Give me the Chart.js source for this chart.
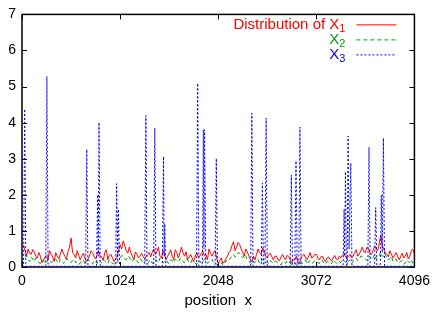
<!DOCTYPE html>
<html>
<head>
<meta charset="utf-8">
<script src="https://cdn.jsdelivr.net/npm/chart.js@4"></script>
<style>
  html, body { margin: 0; padding: 0; background: #fff; }
  #wrap { width: 436px; height: 312px; }
</style>
</head>
<body>
<div id="wrap"><canvas id="grafico" width="436" height="312"></canvas></div>
<script>
// sample grid for X1 / X2: main samples every 32, in-between samples at +16
const posicoes = Array.from({ length: 129 }, (_, i) => i * 32);
const posicoesMeio = Array.from({ length: 128 }, (_, i) => i * 32 + 16);

const valoresX1 = [
  0.55, 0.45, 0.5, 0.35, 0.42, 0.25, 0.3, 0.18, 0.32, 0.45, 0.28, 0.4, 0.22, 0.5, 0.3, 0.42,
  0.8, 0.35, 0.45, 0.2, 0.38, 0.15, 0.3, 0.4, 0.22, 0.45, 0.28, 0.4, 0.2, 0.35, 0.15, 0.3,
  0.62, 0.72, 0.45, 0.55, 0.3, 0.42, 0.25, 0.38, 0.22, 0.35, 0.28, 0.5, 0.42, 0.3, 0.45, 0.2,
  0.38, 0.3, 0.48, 0.25, 0.55, 0.3, 0.2, 0.35, 0.15, 0.4, 0.3, 0.45, 0.35, 0.5, 0.3, 0.45,
  0.1, 0.25, 0.15, 0.3, 0.45, 0.7, 0.55, 0.62, 0.4, 0.5, 0.3, 0.15, 0.2, 0.5, 0.35, 0.45,
  0.25, 0.38, 0.2, 0.3, 0.18, 0.35, 0.2, 0.3, 0.12, 0.22, 0.15, 0.25, 0.35, 0.2, 0.4, 0.28,
  0.35, 0.2, 0.3, 0.15, 0.28, 0.18, 0.32, 0.2, 0.25, 0.38, 0.22, 0.35, 0.3, 0.48, 0.35, 0.55,
  0.4, 0.5, 0.35, 0.58, 0.45, 0.88, 0.5, 0.35, 0.45, 0.25, 0.4, 0.2, 0.38, 0.3, 0.22, 0.45,
  0.35
];
const valoresX1Meio = [
  0.6, 0.3, 0.38, 0.48, 0.3, 0.4, 0.12, 0.28, 0.2, 0.35, 0.15, 0.3, 0.35, 0.38, 0.2, 0.55,
  0.4, 0.25, 0.32, 0.3, 0.25, 0.22, 0.45, 0.3, 0.35, 0.3, 0.18, 0.48, 0.32, 0.25, 0.22, 0.45,
  0.5, 0.6, 0.38, 0.4, 0.2, 0.35, 0.3, 0.3, 0.3, 0.4, 0.42, 0.35, 0.55, 0.25, 0.35, 0.3,
  0.48, 0.2, 0.4, 0.38, 0.4, 0.42, 0.28, 0.25, 0.3, 0.28, 0.38, 0.3, 0.2, 0.38, 0.4, 0.25,
  0.18, 0.1, 0.22, 0.4, 0.6, 0.45, 0.68, 0.5, 0.3, 0.42, 0.2, 0.3, 0.35, 0.4, 0.52, 0.3,
  0.35, 0.28, 0.3, 0.2, 0.28, 0.25, 0.32, 0.2, 0.2, 0.3, 0.1, 0.32, 0.25, 0.3, 0.25, 0.35,
  0.25, 0.28, 0.2, 0.25, 0.2, 0.25, 0.22, 0.3, 0.32, 0.3, 0.3, 0.25, 0.4, 0.3, 0.45, 0.42,
  0.55, 0.4, 0.45, 0.5, 0.65, 0.6, 0.4, 0.28, 0.35, 0.32, 0.3, 0.28, 0.25, 0.4, 0.3, 0.5
];

const valoresX2 = [
  0.3, 0.25, 0.2, 0.28, 0.15, 0.2, 0.1, 0.18, 0.12, 0.2, 0.15, 0.22, 0.1, 0.18, 0.14, 0.2,
  0.12, 0.22, 0.15, 0.1, 0.2, 0.12, 0.18, 0.08, 0.15, 0.2, 0.12, 0.18, 0.1, 0.15, 0.08, 0.12,
  0.25, 0.3, 0.2, 0.28, 0.15, 0.22, 0.12, 0.2, 0.15, 0.1, 0.2, 0.14, 0.18, 0.25, 0.12, 0.2,
  0.1, 0.18, 0.22, 0.15, 0.25, 0.12, 0.2, 0.1, 0.15, 0.08, 0.18, 0.12, 0.2, 0.15, 0.22, 0.12,
  0.05, 0.12, 0.08, 0.15, 0.25, 0.35, 0.3, 0.38, 0.25, 0.3, 0.15, 0.08, 0.12, 0.22, 0.15, 0.2,
  0.12, 0.18, 0.1, 0.15, 0.08, 0.14, 0.1, 0.16, 0.08, 0.12, 0.06, 0.1, 0.15, 0.08, 0.18, 0.12,
  0.15, 0.1, 0.18, 0.08, 0.14, 0.1, 0.15, 0.08, 0.12, 0.18, 0.1, 0.2, 0.15, 0.25, 0.2, 0.3,
  0.22, 0.28, 0.2, 0.35, 0.25, 0.42, 0.3, 0.2, 0.25, 0.15, 0.22, 0.12, 0.18, 0.1, 0.15, 0.2,
  0.12
];
const valoresX2Meio = [
  0.2, 0.32, 0.15, 0.22, 0.25, 0.12, 0.2, 0.1, 0.22, 0.12, 0.2, 0.15, 0.22, 0.1, 0.25, 0.15,
  0.18, 0.12, 0.08, 0.18, 0.1, 0.2, 0.12, 0.18, 0.1, 0.15, 0.22, 0.12, 0.2, 0.1, 0.15, 0.2,
  0.32, 0.22, 0.3, 0.18, 0.25, 0.15, 0.22, 0.1, 0.2, 0.16, 0.1, 0.22, 0.12, 0.2, 0.15, 0.12,
  0.2, 0.12, 0.18, 0.22, 0.15, 0.22, 0.12, 0.2, 0.1, 0.15, 0.1, 0.22, 0.1, 0.18, 0.1, 0.08,
  0.1, 0.05, 0.18, 0.2, 0.3, 0.28, 0.4, 0.3, 0.35, 0.2, 0.12, 0.15, 0.18, 0.1, 0.22, 0.14,
  0.08, 0.14, 0.16, 0.12, 0.06, 0.15, 0.18, 0.1, 0.1, 0.05, 0.12, 0.1, 0.2, 0.15, 0.1, 0.18,
  0.12, 0.2, 0.1, 0.15, 0.08, 0.2, 0.12, 0.15, 0.22, 0.12, 0.15, 0.1, 0.2, 0.18, 0.3, 0.25,
  0.18, 0.3, 0.25, 0.22, 0.32, 0.3, 0.38, 0.2, 0.3, 0.18, 0.12, 0.15, 0.08, 0.2, 0.12, 0.1
];

// X3: near zero with narrow spikes
const posicoesX3 = [
  0, 16, 28, 40, 248, 260, 272, 664, 676, 688, 778, 790, 796, 804, 816,
  978, 988, 998, 1006, 1018, 1281, 1293, 1305, 1374, 1386, 1398,
  1465, 1477, 1484, 1490, 1500, 1822, 1834, 1846, 1883, 1893, 1899, 1906, 1918,
  2016, 2028, 2040, 2387, 2399, 2411, 2498, 2509, 2520, 2536, 2548, 2560,
  2799, 2811, 2823, 2848, 2860, 2872, 2889, 2901, 2913,
  3352, 3362, 3368, 3376, 3386, 3394, 3404, 3414, 3432, 3444,
  3610, 3622, 3634, 3680, 3692, 3704, 3740, 3750, 3760, 3772, 3784, 4096
];
const valoresX3 = [
  0.02, 0.02, 4.38, 0.02, 0.02, 5.28, 0.02, 0.02, 3.26, 0.02, 0.02, 2.0, 0.3, 4.01, 0.02,
  0.02, 2.31, 0.2, 1.6, 0.02, 0.02, 4.2, 0.02, 0.02, 3.85, 0.02,
  0.02, 3.06, 0.3, 1.2, 0.02, 0.02, 5.09, 0.02, 0.02, 3.81, 0.5, 3.8, 0.02,
  0.02, 3.01, 0.02, 0.02, 4.26, 0.02, 0.02, 2.32, 0.02, 0.02, 4.13, 0.02,
  0.02, 2.55, 0.02, 0.02, 2.94, 0.02, 0.02, 3.88, 0.02,
  0.02, 1.6, 0.3, 2.64, 0.02, 0.02, 3.63, 0.5, 2.88, 0.02,
  0.02, 3.32, 0.02, 0.02, 1.65, 0.02, 0.02, 2.0, 0.4, 3.57, 0.02, 0.02
];

const ticksX = [0, 1024, 2048, 3072, 4096];
const ticksY = [0, 1, 2, 3, 4, 5, 6, 7];

const rotulos = ["Distribution of X", "X", "X"];
const indices = ["1", "2", "3"];
const cores = ["#ff0000", "#00a000", "#0000ff"];
const tracos = [[], [4, 3], [2, 2]];

const FONTE = "'Liberation Sans', Arial, sans-serif";
const TICK = 5;

function pares(xs, ys) {
  return xs.map((x, i) => ({ x, y: ys[i] }));
}

// main samples + in-between samples, ordered by position
function juntar(xs, ys, xsMeio, ysMeio) {
  return pares(xs, ys).concat(pares(xsMeio, ysMeio)).sort((a, b) => a.x - b.x);
}

// frame + inward ticks on all four sides
const molduraPlugin = {
  id: "moldura",
  beforeDatasetsDraw(chart) {
    const { ctx, chartArea: a, scales } = chart;
    ctx.save();
    ctx.strokeStyle = "#000";
    ctx.lineWidth = 1;
    ctx.beginPath();
    ticksX.forEach(v => {
      const px = Math.round(scales.x.getPixelForValue(v)) + 0.5;
      ctx.moveTo(px, a.bottom); ctx.lineTo(px, a.bottom - TICK);
      ctx.moveTo(px, a.top); ctx.lineTo(px, a.top + TICK);
    });
    ticksY.forEach(v => {
      const py = Math.round(scales.y.getPixelForValue(v)) + 0.5;
      ctx.moveTo(a.left, py); ctx.lineTo(a.left + TICK, py);
      ctx.moveTo(a.right, py); ctx.lineTo(a.right - TICK, py);
    });
    ctx.stroke();
    ctx.lineWidth = 1.5;
    ctx.strokeRect(a.left, a.top, a.right - a.left, a.bottom - a.top);
    ctx.restore();
  }
};

// gnuplot-style key, top right, with subscripts
const legendaPlugin = {
  id: "legenda",
  afterDatasetsDraw(chart) {
    const { ctx, chartArea: a } = chart;
    ctx.save();
    const fimTexto = a.right - 69;
    chart.data.datasets.forEach((ds, i) => {
      const base = a.top + 14.5 + i * 15;
      ctx.font = "11px " + FONTE;
      const wSub = ctx.measureText(indices[i]).width;
      ctx.fillStyle = cores[i];
      ctx.textBaseline = "alphabetic";
      ctx.textAlign = "left";
      ctx.fillText(indices[i], fimTexto - wSub, base + 3);
      ctx.font = "15px " + FONTE;
      ctx.textAlign = "right";
      ctx.fillText(rotulos[i], fimTexto - wSub, base);
      // line sample
      ctx.strokeStyle = cores[i];
      ctx.lineWidth = 1;
      ctx.setLineDash(tracos[i]);
      ctx.beginPath();
      ctx.moveTo(a.right - 58, base - 4);
      ctx.lineTo(a.right - 18, base - 4);
      ctx.stroke();
    });
    ctx.restore();
  }
};

const datasets = [
  { label: "X1", data: juntar(posicoes, valoresX1, posicoesMeio, valoresX1Meio), order: 2 },
  { label: "X2", data: juntar(posicoes, valoresX2, posicoesMeio, valoresX2Meio), order: 1 },
  { label: "X3", data: pares(posicoesX3, valoresX3), order: 0 }
].map((ds, i) => Object.assign(ds, {
  borderColor: cores[i],
  borderWidth: 1,
  borderDash: tracos[i],
  pointRadius: 0,
  tension: 0,
  fill: false
}));

new Chart(document.getElementById("grafico").getContext("2d"), {
  type: "line",
  data: { datasets },
  options: {
    responsive: false,
    animation: false,
    events: [],
    layout: { padding: { top: 13, right: 20, left: 0, bottom: 0 } },
    plugins: { legend: { display: false }, tooltip: { enabled: false } },
    scales: {
      x: {
        type: "linear",
        min: 0,
        max: 4096,
        afterBuildTicks: s => { s.ticks = ticksX.map(v => ({ value: v })); },
        afterFit: s => { s.height = 45; },
        grid: { display: false, drawTicks: false },
        border: { display: false },
        ticks: {
          padding: 6,
          color: "#000",
          maxRotation: 0,
          font: { family: FONTE, size: 14 },
          callback: v => String(v)
        },
        title: {
          display: true,
          text: "position  x",
          color: "#000",
          font: { family: FONTE, size: 15 },
          padding: { top: 0, bottom: 2 }
        }
      },
      y: {
        min: 0,
        max: 7,
        afterBuildTicks: s => { s.ticks = ticksY.map(v => ({ value: v })); },
        afterFit: s => { s.width = 22; },
        grid: { display: false, drawTicks: false },
        border: { display: false },
        ticks: { padding: 6, color: "#000", font: { family: FONTE, size: 14 }, callback: v => String(v) }
      }
    }
  },
  plugins: [molduraPlugin, legendaPlugin]
});
</script>
</body>
</html>
